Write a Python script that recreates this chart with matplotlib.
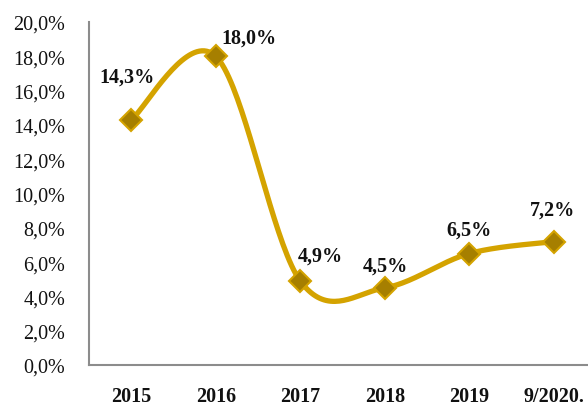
import numpy as np
import matplotlib
matplotlib.use("Agg")
import matplotlib.pyplot as plt
from matplotlib.ticker import FuncFormatter

categories = ["2015", "2016", "2017", "2018", "2019", "9/2020."]
values = [14.3, 18.0, 4.9, 4.5, 6.5, 7.2]
labels = ["14,3%", "18,0%", "4,9%", "4,5%", "6,5%", "7,2%"]
label_offsets = [(-4, 43), (33, 19), (20, 25), (1, 22), (0, 24), (-1, 32)]

LINE = "#D4A300"
MARK = "#A67F00"


def smooth(xs, ys, n=40):
    # Excel-like smoothed line: Catmull-Rom as cubic Bezier segments
    pts = np.column_stack([xs, ys]).astype(float)
    p = np.vstack([pts[0], pts, pts[-1]])
    out = []
    t = np.linspace(0, 1, n)[:, None]
    for i in range(1, len(p) - 2):
        p0, p1, p2, p3 = p[i - 1], p[i], p[i + 1], p[i + 2]
        c1 = p1 + (p2 - p0) / 6.0
        c2 = p2 - (p3 - p1) / 6.0
        seg = ((1 - t) ** 3) * p1 + 3 * ((1 - t) ** 2) * t * c1 + 3 * (1 - t) * t ** 2 * c2 + t ** 3 * p2
        out.append(seg)
    seg = np.vstack(out)
    return seg[:, 0], seg[:, 1]


plt.rcParams["font.family"] = ["Liberation Serif", "DejaVu Serif"]

fig = plt.figure(figsize=(5.88, 4.06), dpi=100)
ax = fig.add_axes([89 / 588, 40 / 406, 507 / 588, 343 / 406])

x = np.arange(len(categories))
sx, sy = smooth(x, values)
ax.plot(sx, sy, color=LINE, linewidth=3.8, solid_capstyle="round", zorder=2)
ax.plot(x, values, linestyle="none", marker="D", markersize=11,
        markerfacecolor=MARK, markeredgecolor=LINE, markeredgewidth=1.5, zorder=3)

for xi, yi, lab, (dx, dy) in zip(x, values, labels, label_offsets):
    ax.annotate(lab, (xi, yi), xytext=(dx * 0.72, dy * 0.72), textcoords="offset points",
                ha="center", va="center", fontsize=14.5, fontweight="bold", color="#111111")

ax.set_xlim(-0.5, len(categories) - 0.5)
ax.set_ylim(0, 20)
ax.set_yticks(np.arange(0, 21, 2))
ax.yaxis.set_major_formatter(FuncFormatter(lambda v, p: f"{v:.1f}%".replace(".", ",")))
ax.set_xticks(x)
ax.set_xticklabels(categories, fontweight="bold")
ax.tick_params(axis="both", length=0, labelsize=14.5, colors="#111111")
ax.tick_params(axis="y", pad=17)
ax.tick_params(axis="x", pad=15)

for side in ["top", "right"]:
    ax.spines[side].set_visible(False)
for side in ["left", "bottom"]:
    ax.spines[side].set_color("#8c8c8c")
    ax.spines[side].set_linewidth(1.5)

fig.savefig("out.png", dpi=100)
